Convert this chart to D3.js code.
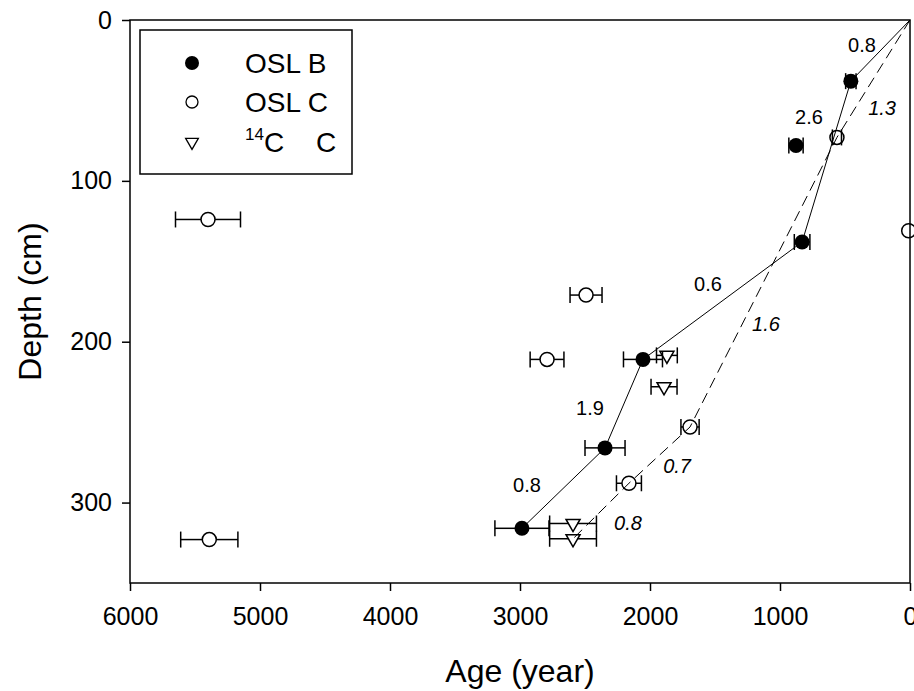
<!DOCTYPE html>
<html>
<head>
<meta charset="utf-8">
<script src="https://cdn.jsdelivr.net/npm/d3@7"></script>
<style>
  html, body { margin: 0; padding: 0; background: #fff; }
  svg { display: block; font-family: Arial, "Liberation Sans", sans-serif; }
</style>
</head>
<body>
<svg id="chart" width="914" height="691"></svg>
<script>
// ---- data ----
const oslB_age   = [455, 877, 830, 2054, 2346, 2985];
const oslB_depth = [38, 78, 138, 211, 266, 316];
const oslB_err   = [40, 55, 60, 150, 154, 208];

const oslC_age   = [562, 10, 5400, 2492, 2792, 1692, 2162, 5390];
const oslC_depth = [73, 131, 124, 171, 211, 253, 288, 323];
const oslC_err   = [35, 0, 250, 123, 130, 70, 96, 220];

const c14_age   = [1870, 1892, 2592, 2592];
const c14_depth = [208.5, 228, 313, 322.5];
const c14_err   = [80, 100, 180, 180];

// age-depth model lines
const solidLine_age   = [0, 455, 830, 2054, 2346, 2985];
const solidLine_depth = [0, 38, 138, 211, 266, 316];
const dashLine_age    = [0, 562, 1692, 2162, 2592];
const dashLine_depth  = [0, 73, 253, 288, 322.5];

// rate labels
const solidLabels = ["0.8", "2.6", "0.6", "1.9", "0.8"];
const solidLab_age   = [369, 777, 1554, 2462, 2946];
const solidLab_depth = [15.6, 60, 164, 241, 289];
const dashLabels = ["1.3", "1.6", "0.7", "0.8"];
const dashLab_age   = [215, 1108, 1792, 2169];
const dashLab_depth = [55, 189, 277, 313];

const xTicks = [6000, 5000, 4000, 3000, 2000, 1000, 0];
const yTicks = [0, 100, 200, 300];
const legendNames = ["OSL B", "OSL C", "C"];

// ---- drawing ----
const svg = d3.select("#chart");
const x = d3.scaleLinear().domain([6000, 0]).range([130, 910]);
const y = d3.scaleLinear().domain([0, 350]).range([20, 583]);

// axes
const yAxis = d3.axisLeft(y).tickValues(yTicks).tickSize(8).tickPadding(10);
const gy = svg.append("g").attr("transform", "translate(130,0)").call(yAxis);
const xAxis = d3.axisBottom(x).tickValues(xTicks).tickSize(8).tickPadding(16).tickFormat(d3.format("d"));
const gx = svg.append("g").attr("transform", "translate(0,583)").call(xAxis);
[gx, gy].forEach(g => {
  g.select(".domain").remove();
  g.selectAll(".tick line").attr("stroke", "#000").attr("stroke-width", 1.5);
  g.selectAll(".tick text").attr("fill", "#000").style("font-size", "25px")
   .style("font-family", "Arial, 'Liberation Sans', sans-serif");
});

// frame
svg.append("rect").attr("x", x(6000)).attr("y", y(0))
  .attr("width", x(0) - x(6000)).attr("height", y(350) - y(0))
  .attr("fill", "none").attr("stroke", "#000").attr("stroke-width", 1.5);

// axis titles
svg.append("text").attr("x", (x(6000) + x(0)) / 2).attr("y", 682)
  .attr("text-anchor", "middle").style("font-size", "32px").text("Age (year)");
svg.append("text").attr("transform", `translate(41,${(y(0) + y(350)) / 2}) rotate(-90)`)
  .attr("text-anchor", "middle").style("font-size", "32px").text("Depth (cm)");

// lines
const line = d3.line().x(d => x(d[0])).y(d => y(d[1]));
svg.append("path").datum(d3.zip(solidLine_age, solidLine_depth))
  .attr("d", line).attr("fill", "none").attr("stroke", "#000").attr("stroke-width", 1);
svg.append("path").datum(d3.zip(dashLine_age, dashLine_depth))
  .attr("d", line).attr("fill", "none").attr("stroke", "#000").attr("stroke-width", 1)
  .attr("stroke-dasharray", "11,6");

// error bars (drawn from marker edge to cap)
function errBars(ages, depths, errs, gap) {
  const g = svg.append("g").attr("stroke", "#000").attr("stroke-width", 1.5);
  ages.forEach((a, i) => {
    const e = errs[i];
    if (!e) return;
    const cy = y(depths[i]);
    const xl = x(a + e), xr = x(a - e), cx = x(a);
    if (cx - gap > xl) g.append("line").attr("x1", xl).attr("x2", cx - gap).attr("y1", cy).attr("y2", cy);
    if (cx + gap < xr) g.append("line").attr("x1", cx + gap).attr("x2", xr).attr("y1", cy).attr("y2", cy);
    g.append("line").attr("x1", xl).attr("x2", xl).attr("y1", cy - 8).attr("y2", cy + 8);
    g.append("line").attr("x1", xr).attr("x2", xr).attr("y1", cy - 8).attr("y2", cy + 8);
  });
}
errBars(oslB_age, oslB_depth, oslB_err, 7);
errBars(oslC_age, oslC_depth, oslC_err, 7);
errBars(c14_age, c14_depth, c14_err, 4);

// markers
svg.append("g").selectAll("circle").data(d3.zip(oslB_age, oslB_depth)).join("circle")
  .attr("cx", d => x(d[0])).attr("cy", d => y(d[1])).attr("r", 7.5).attr("fill", "#000");
svg.append("g").selectAll("circle").data(d3.zip(oslC_age, oslC_depth)).join("circle")
  .attr("cx", d => x(d[0])).attr("cy", d => y(d[1])).attr("r", 7)
  .attr("fill", "none").attr("stroke", "#000").attr("stroke-width", 1.5);
const tri = d3.symbol().type(d3.symbolTriangle).size(85);
svg.append("g").selectAll("path").data(d3.zip(c14_age, c14_depth)).join("path")
  .attr("d", tri).attr("transform", d => `translate(${x(d[0])},${y(d[1])}) rotate(180)`)
  .attr("fill", "none").attr("stroke", "#000").attr("stroke-width", 1.5);

// rate labels
svg.append("g").selectAll("text").data(d3.range(solidLabels.length)).join("text")
  .attr("x", i => x(solidLab_age[i])).attr("y", i => y(solidLab_depth[i]))
  .attr("text-anchor", "middle").attr("dominant-baseline", "central")
  .style("font-size", "20px").text(i => solidLabels[i]);
svg.append("g").selectAll("text").data(d3.range(dashLabels.length)).join("text")
  .attr("x", i => x(dashLab_age[i])).attr("y", i => y(dashLab_depth[i]))
  .attr("text-anchor", "middle").attr("dominant-baseline", "central")
  .style("font-size", "20px").style("font-style", "italic").text(i => dashLabels[i]);

// legend
const lg = svg.append("g");
lg.append("rect").attr("x", 140).attr("y", 30).attr("width", 212).attr("height", 144)
  .attr("fill", "#fff").attr("stroke", "#000").attr("stroke-width", 1.5);
const rows = [63, 102, 142];
lg.append("circle").attr("cx", 192).attr("cy", rows[0]).attr("r", 7).attr("fill", "#000");
lg.append("circle").attr("cx", 192).attr("cy", rows[1]).attr("r", 6).attr("fill", "none")
  .attr("stroke", "#000").attr("stroke-width", 1.3);
lg.append("path").attr("d", d3.symbol().type(d3.symbolTriangle).size(70))
  .attr("transform", `translate(192,${rows[2]}) rotate(180)`)
  .attr("fill", "none").attr("stroke", "#000").attr("stroke-width", 1.3);
lg.append("text").attr("x", 245).attr("y", rows[0]).attr("dominant-baseline", "central")
  .style("font-size", "28px").text(legendNames[0]);
lg.append("text").attr("x", 245).attr("y", rows[1]).attr("dominant-baseline", "central")
  .style("font-size", "28px").text(legendNames[1]);
const t3 = lg.append("text").attr("x", 245).attr("y", rows[2] + 10).style("font-size", "28px");
t3.append("tspan").style("font-size", "17px").attr("dy", -12).text("14");
t3.append("tspan").attr("dy", 12).text("C");
lg.append("text").attr("x", 316).attr("y", rows[2]).attr("dominant-baseline", "central")
  .style("font-size", "28px").text(legendNames[2]);
</script>
</body>
</html>
